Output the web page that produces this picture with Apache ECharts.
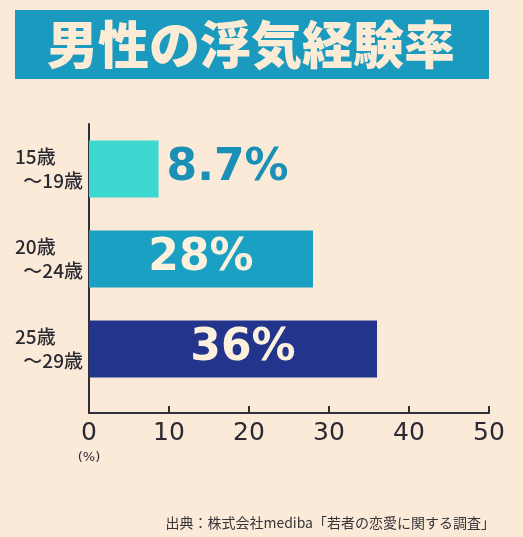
<!DOCTYPE html>
<html>
<head>
<meta charset="utf-8">
<script src="https://cdn.jsdelivr.net/npm/echarts@6/dist/echarts.min.js"></script>
<style>
  html, body { margin: 0; padding: 0; background: #fcead8; }
  #chart { width: 523px; height: 537px; }
</style>
</head>
<body>
<div id="chart"></div>
<script>
// data
const ageTop = ['15歳', '20歳', '25歳'];
const ageBottom = ['～19歳', '～24歳', '～29歳'];
const rates = [8.7, 28, 36];
const xTicks = [0, 10, 20, 30, 40, 50];
const barColors = ['#3ed8d2', '#1aa0c3', '#22348c'];

const chart = echarts.init(document.getElementById('chart'));

const numFont = '"DejaVu Sans", sans-serif';
const jpFont = '"Noto Sans CJK JP", sans-serif';

const option = {
  backgroundColor: '#fcead8',
  title: {
    text: '男性の浮気経験率',
    left: 15,
    top: 10,
    backgroundColor: '#1b9abf',
    padding: [9, 34, 9, 32],
    textStyle: {
      fontFamily: jpFont,
      fontWeight: 900,
      fontSize: 51,
      lineHeight: 51,
      color: '#fcecd6'
    }
  },
  graphic: [{
    type: 'text',
    right: 28,
    top: 516,
    style: {
      text: '出典：株式会社mediba「若者の恋愛に関する調査」',
      fontFamily: jpFont,
      fontSize: 14,
      fill: '#333338'
    }
  }],
  grid: [
    { left: 89, top: 124, width: 400, height: 270 },
    { left: 89, top: 124, width: 400, height: 289 }
  ],
  xAxis: [
    { gridIndex: 0, type: 'value', min: 0, max: 50, show: false },
    {
      gridIndex: 1, type: 'value', min: 0, max: 50, interval: 10,
      axisLine: { show: true, lineStyle: { color: '#2f2f3a', width: 2 } },
      axisTick: { show: true, inside: true, length: 7, lineStyle: { color: '#2f2f3a', width: 2 } },
      splitLine: { show: false },
      axisLabel: {
        margin: 7,
        fontFamily: numFont,
        fontSize: 25,
        color: '#2a2a33',
        lineHeight: 27,
        formatter: v => (xTicks.indexOf(v) === 0 ? v + '\n{p|(%)}' : '' + v),
        rich: { p: { fontSize: 13, lineHeight: 22, color: '#2a2a33', fontFamily: numFont } }
      }
    }
  ],
  yAxis: [
    {
      gridIndex: 0, type: 'category', inverse: true,
      data: ageTop.map((t, i) => t + '\n' + ageBottom[i]),
      axisLine: { show: false },
      axisTick: { show: false },
      axisLabel: {
        margin: 6,
        width: 68,
        align: 'right',
        formatter: (v, i) => '{a|' + ageTop[i] + '}\n{b|' + ageBottom[i] + '}',
        rich: {
          a: { align: 'left', fontFamily: jpFont, fontSize: 19, fontWeight: 500, lineHeight: 24, color: '#2a2a33' },
          b: { align: 'right', fontFamily: jpFont, fontSize: 19, fontWeight: 500, lineHeight: 24, color: '#2a2a33' }
        }
      }
    },
    {
      gridIndex: 1, type: 'value',
      axisLine: { show: true, lineStyle: { color: '#2f2f3a', width: 2 } },
      axisTick: { show: false },
      axisLabel: { show: false },
      splitLine: { show: false }
    }
  ],
  series: [{
    type: 'bar',
    xAxisIndex: 0,
    yAxisIndex: 0,
    barWidth: 57,
    data: rates.map((v, i) => ({
      value: v,
      itemStyle: { color: barColors[i] },
      label: i === 0
        ? { position: 'right', distance: 8, color: '#1a90b6' }
        : { position: 'inside', color: '#fdf0dc', offset: [i === 2 ? 10 : 0, 0] }
    })),
    label: {
      show: true,
      formatter: '{c}%',
      fontFamily: numFont,
      fontWeight: 'bold',
      fontSize: 44
    }
  }]
};

chart.setOption(option);
</script>
</body>
</html>
